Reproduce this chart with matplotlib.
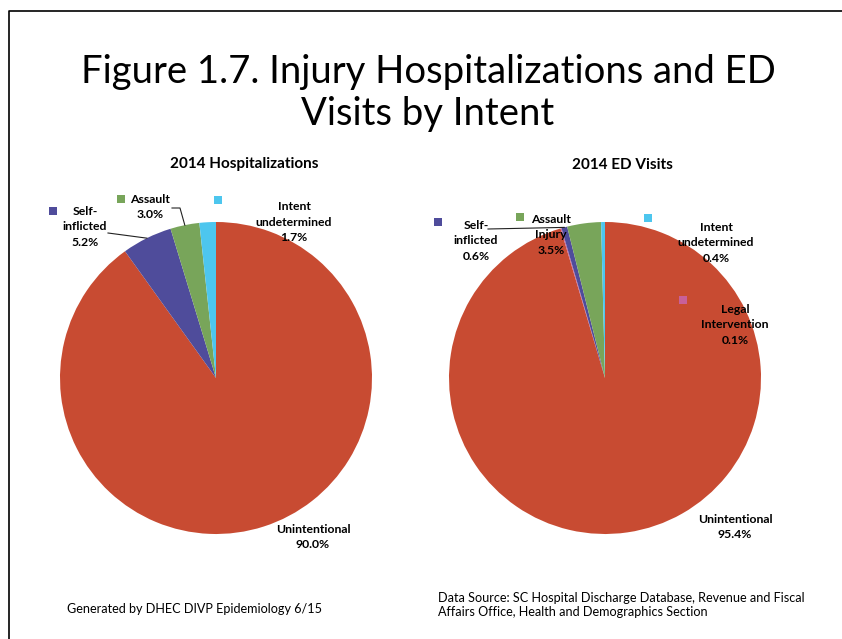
import numpy as np
import matplotlib.pyplot as plt
from matplotlib.patches import Rectangle

plt.rcParams['font.family'] = ['Lato', 'DejaVu Sans']

W, H = 842, 639

# data
hosp_labels = ['Unintentional', 'Self-\ninflicted', 'Assault', 'Intent\nundetermined']
hosp_values = [90.0, 5.2, 3.0, 1.7]
ed_labels = ['Unintentional', 'Legal\nIntervention', 'Self-\ninflicted', 'Assault\nInjury', 'Intent\nundetermined']
ed_values = [95.4, 0.1, 0.6, 3.5, 0.4]

hosp_colors = ['#C84B32', '#4F4C9B', '#78A55A', '#4DC6EE']
ed_colors = ['#C84B32', '#C8609A', '#4F4C9B', '#78A55A', '#4DC6EE']

fig = plt.figure(figsize=(W / 100, H / 100), dpi=100)
fig.patch.set_facecolor('white')

R = 156


def pie_axes(cx, cy, values, colors):
    ax = fig.add_axes([(cx - R) / W, (H - cy - R) / H, 2 * R / W, 2 * R / H])
    ax.pie(values, colors=colors, startangle=90, counterclock=False,
           radius=1, wedgeprops=dict(linewidth=0))
    ax.set_xlim(-1, 1)
    ax.set_ylim(-1, 1)
    ax.axis('off')
    return ax


ax1 = pie_axes(216, 378, hosp_values, hosp_colors)
ax2 = pie_axes(605, 378, ed_values, ed_colors)

# overlay in pixel coords for text / markers
ov = fig.add_axes([0, 0, 1, 1], zorder=5)
ov.set_xlim(0, W)
ov.set_ylim(H, 0)
ov.axis('off')
ov.patch.set_alpha(0)

# frame (left & top edges visible)
ov.plot([8.5, 8.5, W + 5], [H + 5, 10.5, 10.5], color='black', lw=1.2)

fig.text(428 / W, 1 - 93 / H, 'Figure 1.7. Injury Hospitalizations and ED\nVisits by Intent',
         ha='center', va='center', fontsize=27.5, linespacing=1.2)

ov.text(244, 164, '2014 Hospitalizations', ha='center', va='center', fontsize=11, fontweight='bold')
ov.text(622, 165, '2014 ED Visits', ha='center', va='center', fontsize=11, fontweight='bold')


def slice_edge(values, idx, cx, cy):
    tot = sum(values)
    mid = (sum(values[:idx]) + values[idx] / 2) / tot
    ang = np.deg2rad(90 - 360 * mid)
    return cx + R * np.cos(ang), cy - R * np.sin(ang)


def label(x, y, text, val, color=None, mx=None, my=None):
    ov.text(x, y, f'{text}\n{val:.1f}%', ha='center', va='center', fontsize=8.8,
            fontweight='bold', linespacing=1.5)
    if color is not None:
        ov.add_patch(Rectangle((mx - 4, my - 4), 8, 8, color=color, lw=0))


# hospitalizations
label(313, 537, hosp_labels[0], hosp_values[0])
label(85, 227, hosp_labels[1], hosp_values[1], hosp_colors[1], 53, 211)
label(150, 207, hosp_labels[2], hosp_values[2], hosp_colors[2], 121, 199)
label(294, 222, hosp_labels[3], hosp_values[3], hosp_colors[3], 218, 200)

ex, ey = slice_edge(hosp_values, 1, 216, 378)
ov.plot([108, ex], [233, ey], color='#222222', lw=0.8)
ex, ey = slice_edge(hosp_values, 2, 216, 378)
ov.plot([172, 180, ex], [208, 208, ey], color='#222222', lw=0.8)

# ED visits
label(735, 527, ed_labels[0], ed_values[0])
label(735, 325, ed_labels[1], ed_values[1], ed_colors[1], 683, 300)
label(476, 241, ed_labels[2], ed_values[2], ed_colors[2], 438, 222)
label(551, 235, ed_labels[3], ed_values[3], ed_colors[3], 520, 217)
label(716, 243, ed_labels[4], ed_values[4], ed_colors[4], 648, 218)

ex, ey = slice_edge(ed_values, 2, 605, 378)
ov.plot([488, ex], [229, ey], color='#222222', lw=0.8)

fig.text(67 / W, 1 - 609 / H, 'Generated by DHEC DIVP Epidemiology 6/15',
         ha='left', va='center', fontsize=9.1)
fig.text(438 / W, 1 - 605 / H,
         'Data Source: SC Hospital Discharge Database, Revenue and Fiscal\n'
         'Affairs Office, Health and Demographics Section',
         ha='left', va='center', fontsize=9.1, linespacing=1.3)

fig.savefig('out.png', dpi=100)
